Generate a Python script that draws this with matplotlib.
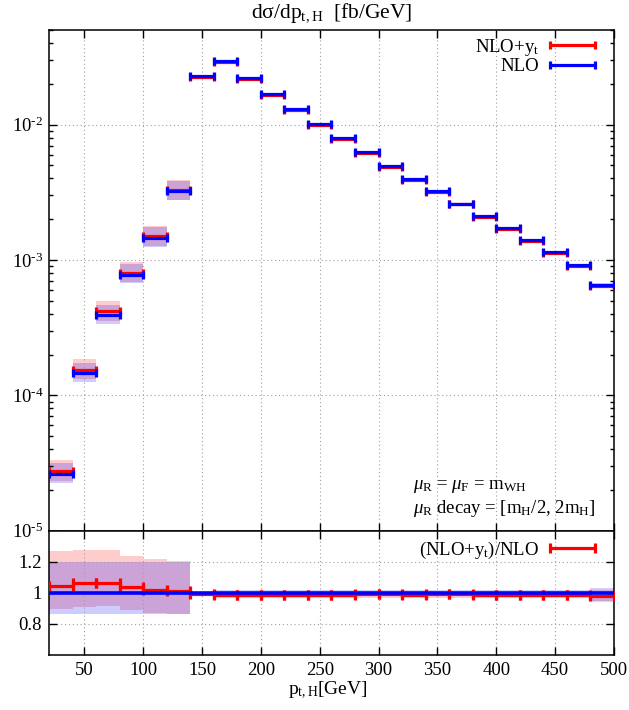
import numpy as np
import matplotlib
matplotlib.use('Agg')
import matplotlib.pyplot as plt
from matplotlib.ticker import FixedLocator, FixedFormatter, NullFormatter
from matplotlib.legend_handler import HandlerErrorbar
from matplotlib.container import ErrorbarContainer

plt.rcParams['font.family'] = ['Liberation Serif', 'DejaVu Serif']
plt.rcParams['mathtext.fontset'] = 'custom'
plt.rcParams['mathtext.rm'] = 'Liberation Serif'
plt.rcParams['mathtext.it'] = 'Liberation Serif:italic'
plt.rcParams['mathtext.bf'] = 'Liberation Serif:bold'

# ---------------- data ----------------
bin_edges = [20, 40, 60, 80, 100, 120, 140, 160, 180, 200, 220, 240, 260,
             280, 300, 320, 340, 360, 380, 400, 420, 440, 460, 480, 500]

nlo = [2.62e-5, 1.45e-4, 3.90e-4, 7.79e-4, 1.46e-3, 3.22e-3, 0.0227, 0.0296,
       0.0221, 0.0169, 0.0130, 0.0101, 0.00798, 0.00625, 0.00495, 0.00397,
       0.00321, 0.00260, 0.00212, 0.00172, 0.00140, 0.00114, 0.00092, 0.000656]

nlo_yt = [2.77e-5, 1.53e-4, 4.20e-4, 8.05e-4, 1.50e-3, 3.27e-3, 0.0224, 0.0289,
          0.0218, 0.0166, 0.0128, 0.0099, 0.00785, 0.00620, 0.00490, 0.00390,
          0.00317, 0.00257, 0.00209, 0.00169, 0.00138, 0.00112, 0.000905, 0.000643]

ratio = [1.047, 1.064, 1.064, 1.038, 1.017, 1.010, 0.994, 0.985, 0.988, 0.985,
         0.985, 0.985, 0.985, 0.990, 0.990, 0.985, 0.990, 0.990, 0.985, 0.985,
         0.985, 0.985, 0.985, 0.980]

nan = float('nan')
# scale-variation bands relative to NLO central value
nlo_band_hi = [1.2, 1.2, 1.2, 1.2, 1.2, 1.2, nan, 1.02, 1.02, 1.02, 1.02, 1.02,
               1.02, 1.02, 1.02, 1.02, 1.02, 1.02, 1.02, 1.02, 1.02, 1.02, 1.02, 1.03]
nlo_band_lo = [0.861, 0.861, 0.861, 0.861, 0.861, 0.861, nan, 0.98, 0.98, 0.98,
               0.98, 0.98, 0.98, 0.98, 0.98, 0.98, 0.98, 0.98, 0.98, 0.98, 0.98,
               0.98, 0.98, 0.95]
yt_band_hi = [1.270, 1.277, 1.277, 1.238, 1.219, 1.206, nan, 1.005, 1.005, 1.005,
              1.005, 1.005, 1.005, 1.005, 1.005, 1.005, 1.005, 1.005, 1.005, 1.005,
              1.005, 1.005, 1.005, 1.02]
yt_band_lo = [0.893, 0.906, 0.915, 0.887, 0.872, 0.861, nan, 0.965, 0.965, 0.965,
              0.965, 0.965, 0.965, 0.965, 0.965, 0.965, 0.965, 0.965, 0.965, 0.965,
              0.965, 0.965, 0.965, 0.94]

x_ticks = [50, 100, 150, 200, 250, 300, 350, 400, 450, 500]
y_main_ticks = [1e-5, 1e-4, 1e-3, 1e-2]
y_main_labels = ['10$^{\\mathregular{\u20105}}$', '10$^{\\mathregular{\u20104}}$',
                 '10$^{\\mathregular{\u20103}}$', '10$^{\\mathregular{\u20102}}$']
y_ratio_ticks = [0.8, 1.0, 1.2]
y_ratio_labels = ['0.8', '1', '1.2']

# ---------------- derived ----------------
edges = np.array(bin_edges, dtype=float)
centers = 0.5 * (edges[:-1] + edges[1:])
half = 0.5 * (edges[1:] - edges[:-1])
nlo_a = np.array(nlo)
yt_a = np.array(nlo_yt)

W, H = 629, 710
fig = plt.figure(figsize=(W / 100, H / 100), dpi=100)
L, R = 49, 614
T_main, B_main, B_ratio = 30, 530.7, 655
ax = fig.add_axes([L / W, 1 - B_main / H, (R - L) / W, (B_main - T_main) / H])
axr = fig.add_axes([L / W, 1 - B_ratio / H, (R - L) / W, (B_ratio - B_main) / H])

RED = '#ff0000'
BLUE = '#0000ff'
grid_kw = dict(color='#a0a0a0', linestyle=(0, (1, 2.5)), linewidth=0.8)
FS_TICK = 13.5
FS_TXT = 13.5

# ---------- main panel ----------
for i in range(len(centers)):
    if not np.isnan(yt_band_hi[i]):
        ax.fill_between([edges[i], edges[i + 1]], nlo_a[i] * yt_band_lo[i],
                        nlo_a[i] * yt_band_hi[i], color=RED, alpha=0.2, lw=0)
for i in range(len(centers)):
    if not np.isnan(nlo_band_hi[i]):
        ax.fill_between([edges[i], edges[i + 1]], nlo_a[i] * nlo_band_lo[i],
                        nlo_a[i] * nlo_band_hi[i], color=BLUE, alpha=0.2, lw=0)

eb_yt = ax.errorbar(centers, yt_a, xerr=half, fmt='none', ecolor=RED,
                    elinewidth=2.3, capsize=3, capthick=2.3, zorder=3)
eb_nlo = ax.errorbar(centers, nlo_a, xerr=half, fmt='none', ecolor=BLUE,
                     elinewidth=2.3, capsize=3, capthick=2.3, zorder=4)

ax.set_yscale('log')
ax.set_xlim(20, 500)
ax.set_ylim(1e-5, 0.05)
ax.xaxis.set_major_locator(FixedLocator(x_ticks))
ax.xaxis.set_major_formatter(NullFormatter())
ax.yaxis.set_major_locator(FixedLocator(y_main_ticks))
ax.yaxis.set_major_formatter(FixedFormatter(y_main_labels))
minor = [m * 10.0 ** e for e in range(-5, -1) for m in range(2, 10)]
ax.yaxis.set_minor_locator(FixedLocator(minor))
ax.yaxis.set_minor_formatter(NullFormatter())
ax.tick_params(which='major', direction='in', length=5.5, width=1.0, top=True,
               right=True, labelsize=FS_TICK, pad=4)
ax.tick_params(which='minor', direction='in', length=3, width=1.0, top=True,
               right=True)
ax.tick_params(axis='x', which='minor', length=0)
ax.grid(True, which='major', **grid_kw)
for s in ax.spines.values():
    s.set_linewidth(1.1)

hmap = {ErrorbarContainer: HandlerErrorbar(xerr_size=1.2)}
leg = ax.legend([eb_yt, eb_nlo], ['NLO+y$_{\\mathregular{t}}$', 'NLO'],
                loc='upper right', bbox_to_anchor=(0.966, 0.986),
                frameon=False, markerfirst=False, fontsize=FS_TXT,
                handlelength=2.4, handletextpad=0.55, borderpad=0,
                borderaxespad=0, labelspacing=0.0, handler_map=hmap)

ax.text(0.644, 0.0873, '$\\mu_{\\mathregular{R}}$ = $\\mu_{\\mathregular{F}}$ = m$_{\\mathregular{WH}}$',
        transform=ax.transAxes, fontsize=FS_TXT, va='center', ha='left')
ax.text(0.644, 0.0453, '$\\mu_{\\mathregular{R}}$ decay = [m$_{\\mathregular{H}}$/2, 2m$_{\\mathregular{H}}$]',
        transform=ax.transAxes, fontsize=FS_TXT, va='center', ha='left')

# ---------- ratio panel ----------
ones = np.ones_like(centers)
for i in range(len(centers)):
    if not np.isnan(yt_band_hi[i]):
        axr.fill_between([edges[i], edges[i + 1]], yt_band_lo[i], yt_band_hi[i],
                         color=RED, alpha=0.2, lw=0)
for i in range(len(centers)):
    if not np.isnan(nlo_band_hi[i]):
        axr.fill_between([edges[i], edges[i + 1]], nlo_band_lo[i], nlo_band_hi[i],
                         color=BLUE, alpha=0.2, lw=0)

eb_r = axr.errorbar(centers, ratio, xerr=half, fmt='none', ecolor=RED,
                    elinewidth=2.3, capsize=3.6, capthick=2.3, zorder=3)
axr.errorbar(centers, ones, xerr=half, fmt='none', ecolor=BLUE,
             elinewidth=2.6, capsize=0, zorder=4)

axr.set_xlim(20, 500)
axr.set_ylim(0.6, 1.4)
axr.xaxis.set_major_locator(FixedLocator(x_ticks))
axr.yaxis.set_major_locator(FixedLocator(y_ratio_ticks))
axr.yaxis.set_major_formatter(FixedFormatter(y_ratio_labels))
axr.tick_params(which='major', direction='in', length=5.5, width=1.0, top=True,
                right=True, labelsize=FS_TICK, pad=5)
axr.grid(True, which='major', **grid_kw)
for s in axr.spines.values():
    s.set_linewidth(1.1)

legr = axr.legend([eb_r], ['(NLO+y$_{\\mathregular{t}}$)/NLO'],
                  loc='upper right', bbox_to_anchor=(0.966, 0.93),
                  frameon=False, markerfirst=False, fontsize=FS_TXT,
                  handlelength=2.4, handletextpad=0.55, borderpad=0,
                  borderaxespad=0, handler_map=hmap)

fig.text(331.5 / W, 1 - 13 / H, 'd\u03c3/dp$_{\\mathregular{t,H}}$  [fb/GeV]',
         ha='center', va='center', fontsize=15.5)
fig.text(328 / W, 1 - 690 / H, 'p$_{\\mathregular{t,H}}$[GeV]',
         ha='center', va='center', fontsize=14)

fig.savefig('out.png', dpi=100)
